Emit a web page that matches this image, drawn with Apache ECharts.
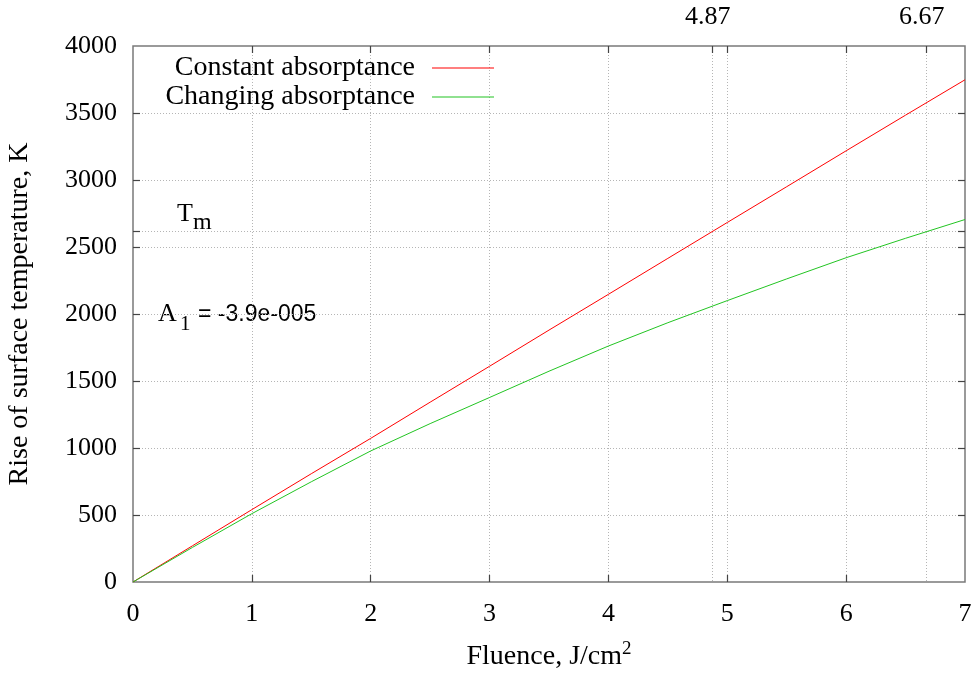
<!DOCTYPE html>
<html>
<head>
<meta charset="utf-8">
<script src="https://cdn.jsdelivr.net/npm/echarts@6/dist/echarts.min.js"></script>
<style>
html,body{margin:0;padding:0;background:#ffffff;}
#chart{width:971px;height:675px;}
</style>
</head>
<body>
<div id="chart"></div>
<script>
// ---- data ----
const fluence = [0, 0.5, 1, 1.5, 2, 2.5, 3, 3.5, 4, 4.5, 5, 5.5, 6, 6.5, 7];
const constantAbsorptance = [0, 270, 540, 808, 1072, 1342, 1610, 1880, 2147, 2415, 2683, 2950, 3218, 3484, 3748];
const changingAbsorptance = [0, 258, 510, 748, 978, 1182, 1377, 1573, 1761, 1935, 2100, 2262, 2420, 2565, 2705];
const seriesNames = ['Constant absorptance', 'Changing absorptance'];
const xTickLabels = [0, 1, 2, 3, 4, 5, 6, 7];
const yTickLabels = [0, 500, 1000, 1500, 2000, 2500, 3000, 3500, 4000];
const meltFluence = [4.87, 6.67];      // top-axis marks
const meltTemperature = [2614];        // T_m level
const annotationTm = ['T', 'm'];
const annotationA1 = ['A', '1', '= -3.9e-005'];

// ---- styling ----
const SERIF = 'Liberation Serif';
const tickStyle = {color: '#444', width: 1.2};
const gridLineStyle = {show: true, lineStyle: {color: '#b5b5b5', width: 1, type: [1, 2]}};

const xInnerTicks = xTickLabels.filter(v => v > 0 && v < 7);
const xTopTicks = xInnerTicks.concat(meltFluence).sort((a, b) => a - b);
const yInnerTicks = yTickLabels.filter(v => v > 0 && v < 4000).concat(meltTemperature).sort((a, b) => a - b);

const chart = echarts.init(document.getElementById('chart'), null, {renderer: 'canvas'});

const option = {
  animation: false,
  backgroundColor: '#ffffff',
  grid: {
    left: 133, right: 6, top: 46, bottom: 93,
    containLabel: false, outerBoundsMode: 'none',
    show: true, borderColor: '#7a7a7a', borderWidth: 1.5, backgroundColor: 'transparent'
  },
  legend: {
    orient: 'vertical',
    right: 971 - 494,
    top: 53.5,
    padding: 0,
    itemGap: 0,
    align: 'right',
    icon: 'rect',
    itemWidth: 62,
    itemHeight: 1,
    selectedMode: false,
    itemStyle: {borderWidth: 0},
    data: seriesNames,
    textStyle: {fontFamily: SERIF, fontSize: 28, color: '#000', lineHeight: 29, padding: [0, 12, 0, 0]}
  },
  xAxis: [
    {
      type: 'value', min: 0, max: 7, interval: 1, position: 'bottom',
      axisLine: {show: false, onZero: false},
      axisTick: {show: true, inside: true, length: 7, customValues: xInnerTicks, lineStyle: tickStyle},
      axisLabel: {customValues: xTickLabels, fontFamily: SERIF, fontSize: 26, color: '#000', margin: 19},
      splitLine: {show: false},
      name: 'Fluence, J/cm{sup|2}',
      nameLocation: 'middle',
      nameGap: 58,
      nameTextStyle: {
        fontFamily: SERIF, fontSize: 28, color: '#000', lineHeight: 34,
        rich: {sup: {fontFamily: SERIF, fontSize: 19, lineHeight: 18, verticalAlign: 'top', color: '#000'}}
      }
    },
    {
      type: 'value', min: 0, max: 7, interval: 1, position: 'top',
      axisLine: {show: false, onZero: false},
      axisTick: {show: true, inside: true, length: 7, customValues: xTopTicks, lineStyle: tickStyle},
      axisLabel: {customValues: meltFluence, formatter: v => Number(v).toFixed(2), fontFamily: SERIF, fontSize: 26, color: '#000', margin: 16, padding: [0, 8, 0, 0]},
      splitLine: gridLineStyle
    }
  ],
  yAxis: [
    {
      type: 'value', min: 0, max: 4000, interval: 500, position: 'left',
      axisLine: {show: false, onZero: false},
      axisTick: {show: true, inside: true, length: 7, customValues: yInnerTicks, lineStyle: tickStyle},
      axisLabel: {customValues: yTickLabels, formatter: v => String(v), fontFamily: SERIF, fontSize: 26, color: '#000', margin: 16},
      splitLine: {show: false},
      name: 'Rise of surface temperature, K',
      nameLocation: 'middle',
      nameGap: 99,
      nameTextStyle: {fontFamily: SERIF, fontSize: 28, color: '#000'}
    },
    {
      type: 'value', min: 0, max: 4000, interval: 500, position: 'right',
      axisLine: {show: false, onZero: false},
      axisTick: {show: true, inside: true, length: 7, customValues: yInnerTicks, lineStyle: tickStyle},
      axisLabel: {show: false},
      splitLine: gridLineStyle
    }
  ],
  series: [
    {
      name: seriesNames[0], type: 'line', xAxisIndex: 0, yAxisIndex: 0,
      data: fluence.map((x, i) => [x, constantAbsorptance[i]]),
      symbol: 'none', showSymbol: false, z: 3,
      lineStyle: {color: '#ff0000', width: 1},
      itemStyle: {color: '#ff0000'}
    },
    {
      name: seriesNames[1], type: 'line', xAxisIndex: 0, yAxisIndex: 0,
      data: fluence.map((x, i) => [x, changingAbsorptance[i]]),
      symbol: 'none', showSymbol: false, z: 3,
      lineStyle: {color: '#22c422', width: 1},
      itemStyle: {color: '#22c422'}
    }
  ],
  graphic: [
    {type: 'text', left: 177, top: 214 - 13, style: {text: annotationTm[0], font: '26px "Liberation Serif"', fill: '#000'}},
    {type: 'text', left: 193, top: 223 - 12, style: {text: annotationTm[1], font: '24px "Liberation Serif"', fill: '#000'}},
    {type: 'text', left: 158, top: 314.5 - 13, style: {text: annotationA1[0], font: '26px "Liberation Serif"', fill: '#000'}},
    {type: 'text', left: 180, top: 324 - 10.5, style: {text: annotationA1[1], font: '21px "Liberation Serif"', fill: '#000'}},
    {type: 'text', left: 198, top: 314.5 - 11.5, style: {text: annotationA1[2], font: '23px "Liberation Sans"', fill: '#000'}}
  ]
};

chart.setOption(option);
</script>
</body>
</html>
